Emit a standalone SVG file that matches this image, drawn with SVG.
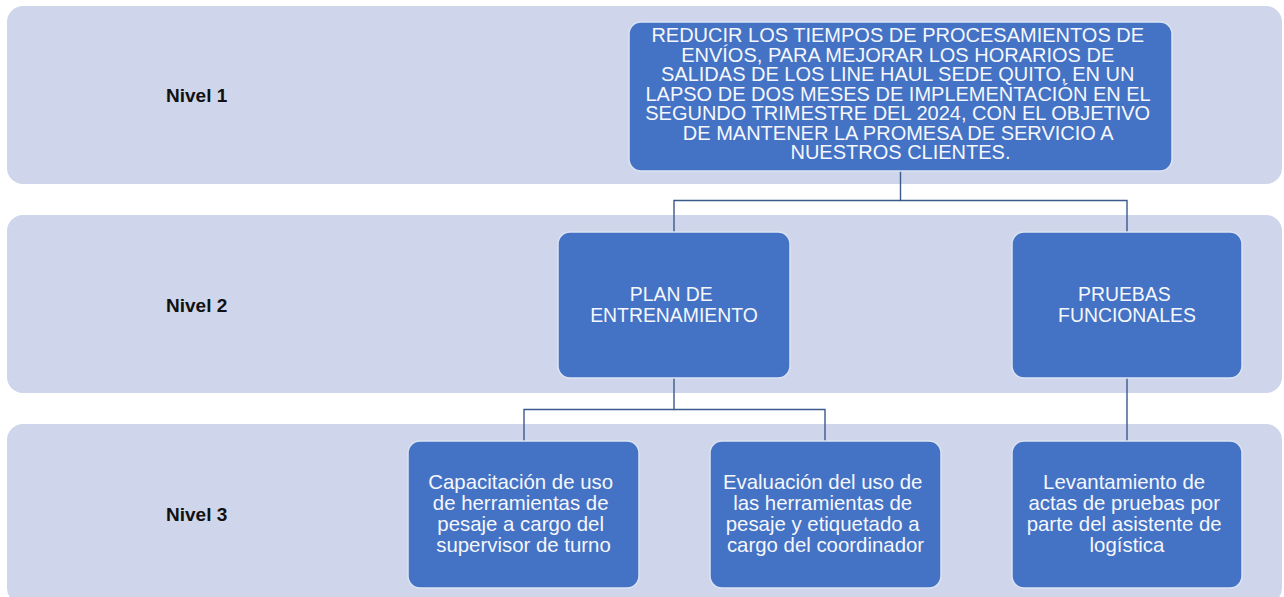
<svg xmlns="http://www.w3.org/2000/svg" width="1284" height="597" viewBox="0 0 1284 597">
  <style>
    .band { fill: #CFD5EA; }
    .node { fill: #4472C4; stroke: #DCE4F4; stroke-width: 1.5; }
    .lvl { font-family: "Liberation Sans", Arial, sans-serif; font-weight: bold; font-size: 19px; fill: #111111; }
    .t { font-family: "Liberation Sans", Arial, sans-serif; fill: #F5F7FC; text-anchor: middle; }
    .t19 { font-size: 19.4px; }
    .top { font-size: 20px; }
    .t20 { font-size: 20.4px; }
    .conn { fill: none; stroke: #3B5A8C; stroke-width: 1.4; }
  </style>
  <rect width="1284" height="597" fill="#FFFFFF"/>
  <g id="bands">
    <rect class="band" x="7" y="6" width="1275" height="178" rx="16"/>
    <rect class="band" x="7" y="215" width="1275" height="178" rx="16"/>
    <rect class="band" x="7" y="424" width="1275" height="180" rx="16"/>
  </g>
  <g id="levels">
    <text class="lvl" x="166" y="102">Nivel 1</text>
    <text class="lvl" x="166" y="312">Nivel 2</text>
    <text class="lvl" x="166" y="521">Nivel 3</text>
  </g>
  <g id="connectors">
    <path class="conn" d="M900.5 171 V200.5 H674 V232"/>
    <path class="conn" d="M900.5 200.5 H1127 V232"/>
    <path class="conn" d="M674 378 V409.5 H524 V441"/>
    <path class="conn" d="M674 409.5 H825 V441"/>
    <path class="conn" d="M1127 378 V441"/>
  </g>
  <g id="objetivo">
    <rect class="node" x="629" y="22" width="543" height="149" rx="12"/>
    <text class="t top">
      <tspan x="900.5" y="42">REDUCIR LOS TIEMPOS DE PROCESAMIENTOS  DE</tspan>
      <tspan x="900.5" y="61.5">ENVÍOS, PARA MEJORAR LOS HORARIOS DE</tspan>
      <tspan x="900.5" y="81">SALIDAS DE LOS LINE HAUL SEDE QUITO, EN UN</tspan>
      <tspan x="900.5" y="100.5">LAPSO DE DOS MESES DE IMPLEMENTACIÓN  EN EL</tspan>
      <tspan x="900.5" y="120">SEGUNDO TRIMESTRE DEL 2024, CON EL OBJETIVO</tspan>
      <tspan x="900.5" y="139.5">DE MANTENER LA PROMESA DE SERVICIO A</tspan>
      <tspan x="900.5" y="159">NUESTROS CLIENTES.</tspan>
    </text>
  </g>
  <g id="plan">
    <rect class="node" x="558" y="232" width="232" height="146" rx="12"/>
    <text class="t t19">
      <tspan x="674" y="300.5">PLAN DE</tspan>
      <tspan x="674" y="321.5">ENTRENAMIENTO</tspan>
    </text>
  </g>
  <g id="pruebas">
    <rect class="node" x="1012" y="232" width="230" height="146" rx="12"/>
    <text class="t t19">
      <tspan x="1127" y="300.5">PRUEBAS</tspan>
      <tspan x="1127" y="321.5">FUNCIONALES</tspan>
    </text>
  </g>
  <g id="capacitacion">
    <rect class="node" x="408" y="441" width="231" height="147" rx="12"/>
    <text class="t t20">
      <tspan x="523.5" y="489">Capacitación de uso</tspan>
      <tspan x="523.5" y="510">de herramientas de</tspan>
      <tspan x="523.5" y="531">pesaje a cargo del</tspan>
      <tspan x="523.5" y="552">supervisor de turno</tspan>
    </text>
  </g>
  <g id="evaluacion">
    <rect class="node" x="710" y="441" width="231" height="147" rx="12"/>
    <text class="t t20">
      <tspan x="825.5" y="489">Evaluación del uso de</tspan>
      <tspan x="825.5" y="510">las herramientas de</tspan>
      <tspan x="825.5" y="531">pesaje y etiquetado a</tspan>
      <tspan x="825.5" y="552">cargo del coordinador</tspan>
    </text>
  </g>
  <g id="levantamiento">
    <rect class="node" x="1012" y="441" width="230" height="147" rx="12"/>
    <text class="t t20">
      <tspan x="1127" y="489">Levantamiento de</tspan>
      <tspan x="1127" y="510">actas de pruebas por</tspan>
      <tspan x="1127" y="531">parte del asistente de</tspan>
      <tspan x="1127" y="552">logística</tspan>
    </text>
  </g>
</svg>
